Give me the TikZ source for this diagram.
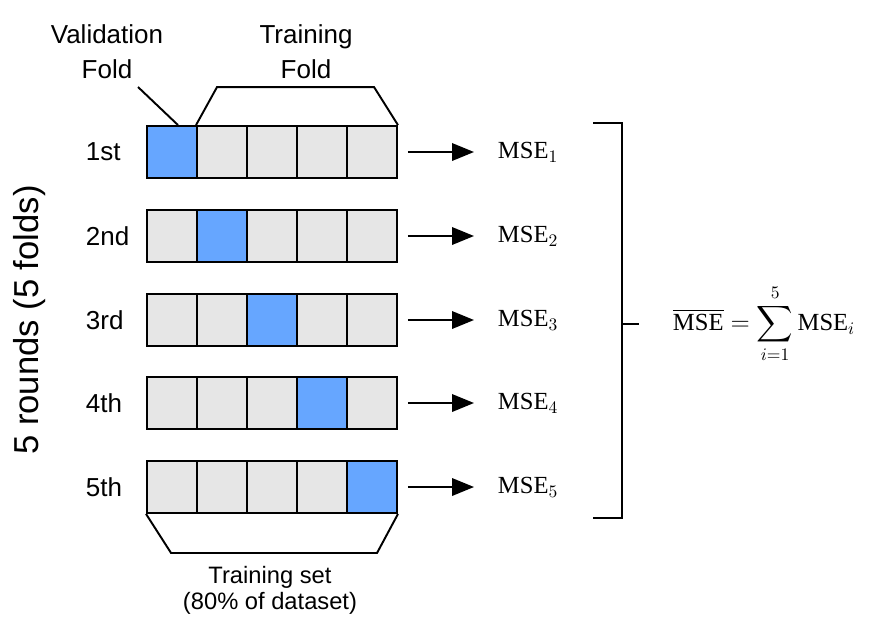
\documentclass[tikz,border=0pt]{standalone}
\usepackage{amsmath}
\usepackage{fontspec}
\setmainfont{Liberation Serif}
\newfontfamily\arialfont{Liberation Sans}
\usepackage{tikz}
\usetikzlibrary{arrows.meta,positioning,calc}
\definecolor{valblue}{HTML}{66A6FF}
\definecolor{traingray}{HTML}{E6E6E6}
\tikzset{fontscale/.style = {font=\arialfont\fontsize{14.8}{19.9}\selectfont}}
\tikzstyle{ctrain}=[rectangle, draw, line width=1.1pt, fill=traingray, minimum width=1cm, minimum height=1.04cm, inner sep=0]
\tikzstyle{cval}=[ctrain, fill=valblue]
\tikzstyle{legend_normal}=[rectangle, fontscale, align=center]
\tikzstyle{legend_math}=[rectangle, inner sep=0, anchor=west, font=\fontsize{14}{17}\selectfont]

\begin{document}
\begin{tikzpicture}[x=0.02cm, y=-0.02cm, line width=1.1pt,
  trans/.style={line width=1.1pt,-{Triangle[length=0.44cm,width=0.35cm]}, shorten <=0.2cm, shorten >=0.46cm},
  brace/.style={line width=1.1pt, line join=miter}]
\useasboundingbox (0,0) rectangle (872,623);

% rows of folds
\foreach \r/\y/\lab in {1/152/1st,2/236/2nd,3/320/3rd,4/403/4th,5/487/5th}{
  \foreach \c in {1,...,5}{
    \ifnum\c=\r \def\st{cval}\else\def\st{ctrain}\fi
    \node[\st] (c\r\c) at ({122+50*\c},\y) {};
  }
  \node[legend_normal, anchor=west, inner sep=0] (l\r) at (85,\y) {\lab};
  \node[legend_math] (m\r) at (497,\y) {$\mathrm{MSE}_{\r}$};
  \path[trans] (c\r5.east) edge (m\r.west);
}

% Legends
\node[legend_normal] (vlab) at (107,52) {Validation\\Fold};
\node[legend_normal] (tlab) at (306,52) {Training\\Fold};
\node[legend_normal, font=\arialfont\fontsize{13.5}{14.8}\selectfont] (slab) at (270,590) {Training set\\(80\% of dataset)};
\node[legend_normal, rotate=90, font=\arialfont\fontsize{19.7}{22}\selectfont] (rlab) at (30,320) {5 rounds (5 folds)};

% brackets
\coordinate (vtip) at (138,87);
\draw[brace] (vtip) -- ([xshift=3.4pt]c11.north);
\draw[brace] (c12.north west) -- ++(21,-38) -- ++(157,0) -- (c15.north east);
\draw[brace] (c51.south west) -- ++(25,39) -- ++(206,0) -- (c55.south east);

% sum bracket
\coordinate (b0) at (593,123);
\coordinate (b1) at (622,123);
\coordinate (b2) at (622,518);
\coordinate (b3) at (593,518);
\coordinate (bm) at (622,324);
\node[legend_math] (avg) at (672,324)
  {$\overline{\mathrm{MSE}} = \displaystyle\sum_{i=1}^{5} \mathrm{MSE}_i$};
\draw[brace] (b0) -- (b1) -- (b2) -- (b3);
\draw[brace] (bm) -- ++(17,0);
\end{tikzpicture}
\end{document}
